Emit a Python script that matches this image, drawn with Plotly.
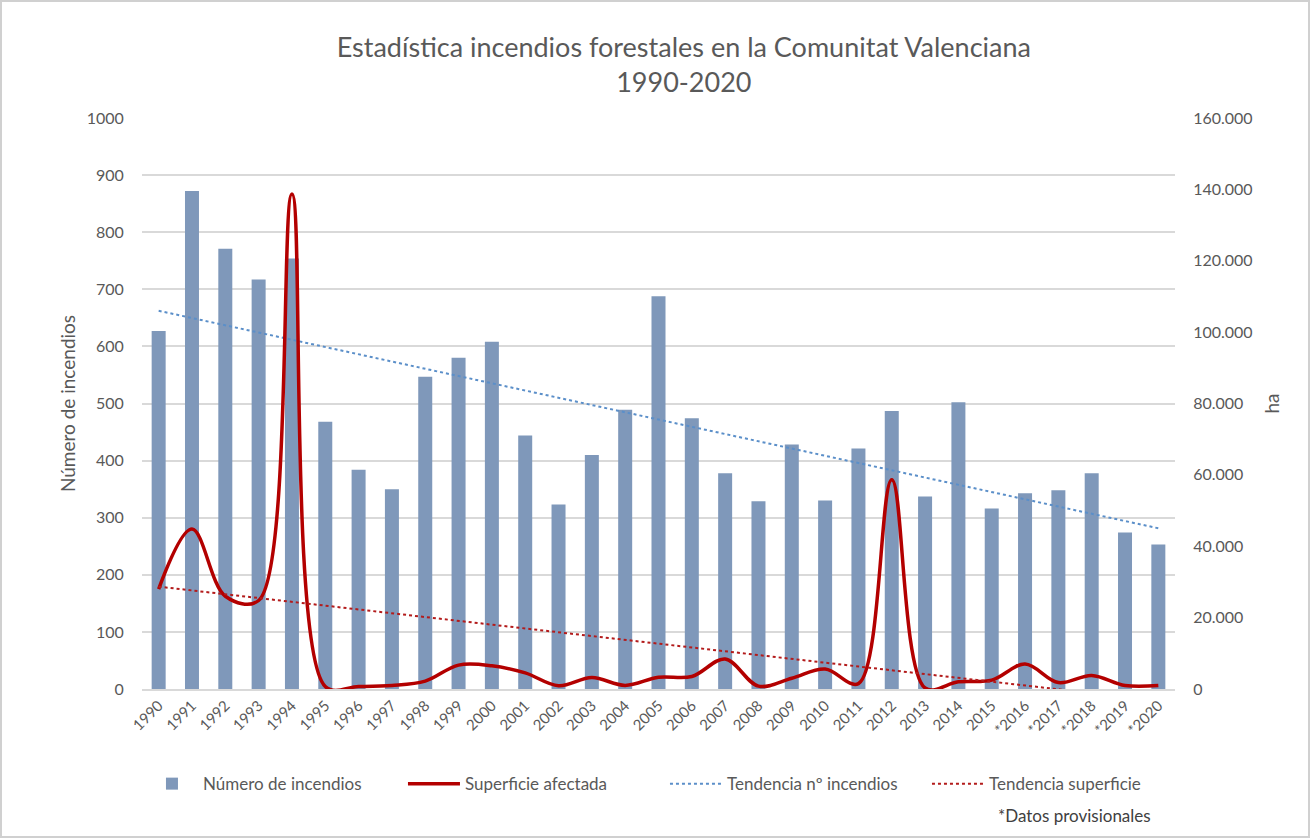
import numpy as np
import plotly.graph_objects as go

years = ["1990", "1991", "1992", "1993", "1994", "1995", "1996", "1997", "1998", "1999",
         "2000", "2001", "2002", "2003", "2004", "2005", "2006", "2007", "2008", "2009",
         "2010", "2011", "2012", "2013", "2014", "2015", "*2016", "*2017", "*2018", "*2019", "*2020"]

num_incendios = [627, 872, 771, 717, 754, 468, 384, 350, 547, 580,
                 608, 444, 323, 410, 489, 688, 474, 378, 329, 428,
                 330, 421, 487, 337, 502, 316, 343, 348, 378, 274, 253]

superficie_ha = [28000, 44800, 26000, 24800, 138700, 700, 700, 1000, 2200, 6700,
                 6500, 4500, 900, 3200, 1000, 3300, 3500, 8400, 800, 3000,
                 5600, 1500, 58600, 300, 2000, 2500, 7000, 1800, 3800, 1000, 1000]

# Linear trendlines (least squares, as in the spreadsheet)
xi = np.arange(1, len(years) + 1)
b1, a1 = np.polyfit(xi, num_incendios, 1)
b2, a2 = np.polyfit(xi, superficie_ha, 1)
trend_num = a1 + b1 * xi
trend_sup = a2 + b2 * xi

FONT = "Lato"
GRAY = "#595959"

fig = go.Figure()
fig.add_trace(go.Bar(x=years, y=num_incendios, name="Número de incendios",
                     marker=dict(color="#7F98BA", line=dict(width=0)), width=0.42))
fig.add_trace(go.Scatter(x=years, y=superficie_ha, name="Superficie afectada", yaxis="y2",
                         mode="lines", line=dict(color="#B30000", width=3.5, shape="spline", smoothing=1.0)))
fig.add_trace(go.Scatter(x=years, y=trend_num, name="Tendencia nº incendios",
                         mode="lines", line=dict(color="#5B8FC9", width=2, dash="dot")))
fig.add_trace(go.Scatter(x=years, y=trend_sup, name="Tendencia superficie", yaxis="y2",
                         mode="lines", line=dict(color="#B31B1B", width=2, dash="dot")))

fig.update_layout(
    width=1310, height=838,
    paper_bgcolor="white", plot_bgcolor="white",
    separators=",.",
    font=dict(family=FONT, color=GRAY, size=15),
    margin=dict(l=142, r=135, t=118, b=149),
    title=dict(text="Estadística incendios forestales en la Comunitat Valenciana<br>1990-2020",
               x=0.522, xanchor="center", y=0.932, yanchor="middle",
               font=dict(family=FONT, size=27, color=GRAY)),
    bargap=0.58,
    xaxis=dict(type="category", tickangle=-45, showgrid=False, showline=True,
               linecolor="#D9D9D9", linewidth=2, ticks="",
               tickfont=dict(size=15, color=GRAY)),
    yaxis=dict(range=[0, 1000], dtick=100, tickformat="d", showgrid=True,
               gridcolor="#D9D9D9", gridwidth=2, zeroline=False, showline=False,
               ticks="outside", ticklen=14, tickcolor="white",
               title=dict(text="Número de incendios", font=dict(size=19, color=GRAY), standoff=6),
               tickfont=dict(size=16, color=GRAY)),
    yaxis2=dict(range=[0, 160000], dtick=20000, tickformat=",d", overlaying="y", side="right",
                showgrid=False, zeroline=False, showline=False,
                ticks="outside", ticklen=14, tickcolor="white",
                title=dict(text="ha", font=dict(size=19, color=GRAY), standoff=14),
                tickfont=dict(size=16, color=GRAY)),
    legend=dict(orientation="h", x=-0.001, xanchor="left", y=-0.135, yanchor="top",
                font=dict(size=17, color=GRAY), itemwidth=52, tracegroupgap=0,
                entrywidth=195, entrywidthmode="pixels"),
    showlegend=True,
)

fig.add_annotation(text="*Datos provisionales", xref="paper", yref="paper",
                   x=0.979, xanchor="right", y=-0.2, yanchor="top", showarrow=False,
                   font=dict(size=17, color="#404040"))

# Outer chart border
fig.add_shape(type="rect", xref="paper", yref="paper",
              x0=-141 / 1033, x1=1 + 134 / 1033, y0=-148 / 571, y1=1 + 117 / 571,
              line=dict(color="#D0D0D0", width=2))

fig.write_html("out.html")
